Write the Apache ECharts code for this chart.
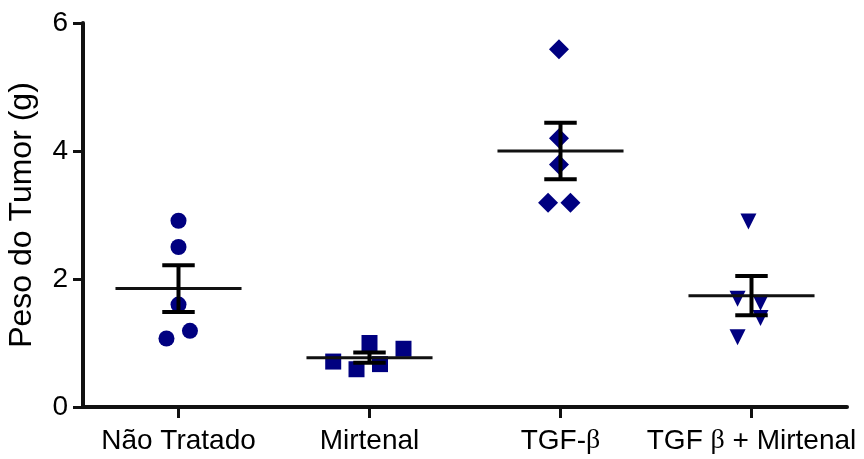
<!DOCTYPE html>
<html>
<head>
<meta charset="utf-8">
<script src="https://cdn.jsdelivr.net/npm/echarts@6/dist/echarts.min.js"></script>
<style>html,body{margin:0;padding:0;background:#fff;}#c{width:864px;height:459px;}</style>
</head>
<body>
<div id="c"></div>
<script>
// ---- data ----
var categories = ['Não Tratado', 'Mirtenal', 'TGF-β', 'TGF β + Mirtenal'];
var yTicks = [0, 2, 4, 6];

var naoTratadoValues  = [2.91, 2.50, 1.60, 1.07, 1.19];
var naoTratadoJitter  = [0, 0, 0, -0.063, 0.060];

var mirtenalValues    = [0.71, 0.59, 1.00, 0.67, 0.91];
var mirtenalJitter    = [-0.19, -0.068, 0, 0.055, 0.178];

var tgfValues         = [5.59, 4.20, 3.79, 3.19, 3.19];
var tgfJitter         = [-0.008, -0.008, -0.008, -0.065, 0.052];

var tgfMirtValues     = [2.90, 1.69, 1.63, 1.39, 1.09];
var tgfMirtJitter     = [-0.016, -0.073, 0.047, 0.047, -0.073];

var groupMeans = [1.85, 0.77, 4.00, 1.74];
var groupSEM   = [0.365, 0.08, 0.44, 0.305];

// ---- build ----
function pts(idx, vals, jit) {
  return vals.map(function (v, i) { return [idx + jit[i], v]; });
}
var summary = groupMeans.map(function (m, i) { return [i, m, groupSEM[i]]; });

var FONT = "'Liberation Sans', Arial, Helvetica, sans-serif";
var SERIF = "'Liberation Serif', 'DejaVu Serif', serif";
var pointColor = '#000080';

var chart = echarts.init(document.getElementById('c'), null, {renderer: 'canvas'});

function scatter(name, data, symbol, size, rot) {
  return {
    name: name, type: 'scatter', xAxisIndex: 1, yAxisIndex: 0,
    data: data, symbol: symbol, symbolSize: size, symbolRotate: rot || 0,
    itemStyle: {color: pointColor, opacity: 1},
    z: 2, silent: true, animation: false
  };
}

chart.setOption({
  animation: false,
  backgroundColor: '#fff',
  grid: {left: 83, right: 17, top: 23, bottom: 52, containLabel: false, outerBoundsMode: 'none'},
  xAxis: [{
    type: 'category',
    data: categories,
    boundaryGap: true,
    axisLine: {show: true, onZero: false, lineStyle: {color: '#111', width: 4}},
    axisTick: {show: true, alignWithLabel: true, length: 11, lineStyle: {color: '#111', width: 3}},
    axisLabel: {
      interval: 0, margin: 20, color: '#000', fontSize: 28, fontFamily: FONT,
      formatter: function (v) { return v.replace('β', '{b|β}'); },
      rich: {b: {fontFamily: SERIF, fontSize: 28, color: '#000'}}
    },
    splitLine: {show: false}
  }, {
    type: 'value', min: -0.5, max: 3.5, show: false,
    axisLine: {onZero: false}
  }],
  yAxis: [{
    type: 'value', min: 0, max: 6, interval: 2,
    name: 'Peso do Tumor (g)', nameLocation: 'middle', nameGap: 45,
    nameTextStyle: {color: '#000', fontSize: 32, fontFamily: FONT},
    axisLine: {show: true, onZero: false, lineStyle: {color: '#111', width: 4}},
    axisTick: {show: true, length: 10, lineStyle: {color: '#111', width: 3}},
    axisLabel: {
      margin: 15, color: '#000', fontSize: 28, fontFamily: FONT,
      formatter: function (v) { return yTicks.indexOf(v) >= 0 ? String(v) : ''; }
    },
    splitLine: {show: false}
  }],
  series: [
    scatter('Não Tratado', pts(0, naoTratadoValues, naoTratadoJitter), 'circle', 16),
    scatter('Mirtenal', pts(1, mirtenalValues, mirtenalJitter), 'rect', 16),
    scatter('TGF-β', pts(2, tgfValues, tgfJitter), 'diamond', 20),
    scatter('TGF β + Mirtenal', pts(3, tgfMirtValues, tgfMirtJitter), 'triangle', 16, 180),
    {
      type: 'custom', xAxisIndex: 1, yAxisIndex: 0, z: 5, silent: true,
      data: summary,
      renderItem: function (params, api) {
        var i = api.value(0), m = api.value(1), s = api.value(2);
        var half = 0.33, cap = 0.085;
        var a = api.coord([i - half, m]), b = api.coord([i + half, m]);
        var t = api.coord([i, m + s]), d = api.coord([i, m - s]);
        var tl = api.coord([i - cap, m + s]), tr = api.coord([i + cap, m + s]);
        var bl = api.coord([i - cap, m - s]), br = api.coord([i + cap, m - s]);
        var st = {stroke: '#000', lineWidth: 4};
        return {
          type: 'group',
          children: [
            {type: 'line', shape: {x1: a[0], y1: a[1], x2: b[0], y2: b[1]}, style: {stroke: '#111', lineWidth: 3}},
            {type: 'line', shape: {x1: t[0], y1: t[1], x2: d[0], y2: d[1]}, style: st},
            {type: 'line', shape: {x1: tl[0], y1: tl[1], x2: tr[0], y2: tr[1]}, style: st},
            {type: 'line', shape: {x1: bl[0], y1: bl[1], x2: br[0], y2: br[1]}, style: st}
          ]
        };
      }
    }
  ]
});
</script>
</body>
</html>
